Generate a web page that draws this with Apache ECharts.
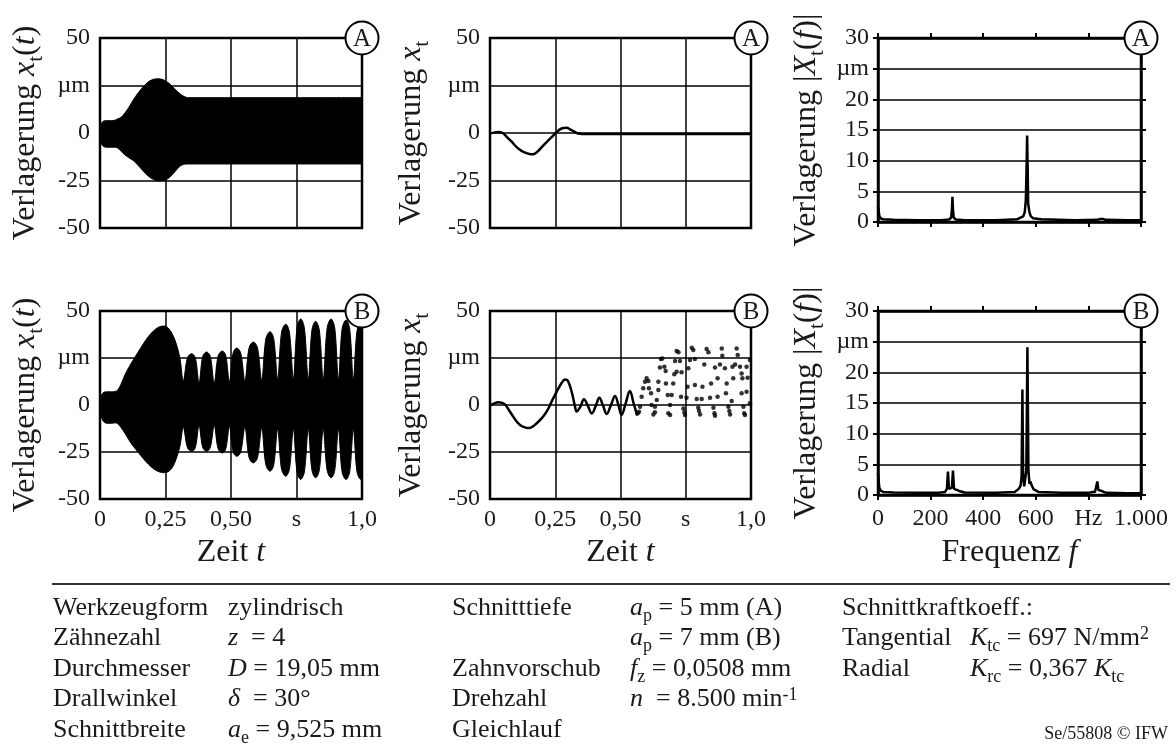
<!DOCTYPE html>
<html><head><meta charset="utf-8">
<script src="https://cdn.jsdelivr.net/npm/echarts/dist/echarts.min.js"></script>
<style>html,body{margin:0;padding:0;background:#fff}#c{width:1176px;height:746px}</style>
</head><body><div id="c"></div>
<script>
const FONT = '"Liberation Serif","Times New Roman",serif';
const INK = '#1a1a1a';

// ---------- tick labels ----------
const timeXTicks = [0, 0.25, 0.5, 0.75, 1];
const timeXLabels = ['0', '0,25', '0,50', 's', '1,0'];
const timeYTicks = [-50, -25, 0, 25, 50];
const timeYLabels = ['-50', '-25', '0', 'µm', '50'];
const freqXTicks = [0, 200, 400, 600, 800, 1000];
const freqXLabels = ['0', '200', '400', '600', 'Hz', '1.000'];
const freqYTicks = [0, 5, 10, 15, 20, 25, 30];
const freqYLabels = ['0', '5', '10', '15', '20', 'µm', '30'];

// ---------- A: envelope of x_t(t) ----------
const tA  = [0, 0.004, 0.012, 0.025, 0.045, 0.058, 0.068, 0.08, 0.095, 0.11, 0.127, 0.145, 0.165, 0.185, 0.205, 0.225, 0.245, 0.265, 0.285, 0.305, 0.32, 0.335, 0.5, 0.75, 1.0];
const upA = [0, 4.5, 6.2, 6.5, 6.5, 6.8, 7.5, 8.2, 10.5, 13.5, 17.4, 21, 24.3, 27, 28.3, 28.5, 27.8, 26, 23.2, 20.7, 19.3, 18.6, 18.6, 18.6, 18.6];
const loA = [0, -5, -7, -7.5, -7.5, -7.5, -8, -9.5, -11.5, -13, -14.5, -17, -20, -22.8, -24.5, -25.2, -25, -23.4, -20.5, -17.5, -16.5, -16.3, -16.3, -16.3, -16.3];

// ---------- A: sampled x_t ----------
const tA2 = [0, 0.015, 0.032, 0.048, 0.064, 0.083, 0.102, 0.121, 0.14, 0.158, 0.172, 0.185, 0.2, 0.217, 0.23, 0.243, 0.256, 0.268, 0.281, 0.294, 0.307, 0.319, 0.332, 0.345, 0.36, 0.4, 0.5, 0.6, 0.7, 0.8, 0.9, 1.0];
const vA2 = [-0.3, 0.2, 0.5, 0, -2, -4.6, -7.4, -9.4, -10.6, -11.2, -10.8, -9.4, -7.2, -4.8, -3, -1.2, 0.5, 1.9, 2.6, 2.7, 1.9, 1, 0, -0.4, -0.5, -0.5, -0.5, -0.5, -0.5, -0.5, -0.5, -0.5];

// ---------- A: spectrum ----------
const fA   = [0, 2, 5, 10, 20, 60, 150, 240, 270, 278, 281, 283, 285, 288, 296, 330, 450, 530, 552, 558, 562, 565, 567, 569, 571, 575, 580, 590, 620, 750, 835, 845, 850, 855, 865, 950, 1000];
const magA = [2.5, 2.0, 1.0, 0.6, 0.45, 0.35, 0.3, 0.3, 0.4, 0.7, 2.0, 4.1, 2.0, 0.7, 0.4, 0.3, 0.3, 0.45, 0.9, 1.6, 3.5, 9.0, 14.1, 9.0, 3.0, 1.8, 1.0, 0.6, 0.45, 0.3, 0.35, 0.5, 0.7, 0.5, 0.35, 0.3, 0.3];

// ---------- B: envelope of x_t(t) ----------
const tB  = [0, 0.004, 0.012, 0.025, 0.045, 0.058, 0.068, 0.08, 0.095, 0.11, 0.127, 0.145, 0.165, 0.185, 0.205, 0.225, 0.245, 0.26, 0.275, 0.29, 0.305, 0.318,
  0.334, 0.350, 0.364, 0.378, 0.392, 0.407, 0.421, 0.436, 0.451, 0.467, 0.480, 0.494, 0.508, 0.522, 0.537, 0.553, 0.569, 0.585, 0.601, 0.617,
  0.633, 0.649, 0.663, 0.678, 0.693, 0.709, 0.723, 0.738, 0.752, 0.766, 0.780, 0.795, 0.809, 0.823, 0.837, 0.852, 0.867, 0.882, 0.896, 0.910,
  0.924, 0.939, 0.953, 0.967, 0.981, 0.996, 1.0];
const upB = [0, 4.5, 6.5, 7, 7, 7.2, 8, 11, 16, 20, 24, 28, 32.5, 36.5, 39.5, 41.5, 42, 41, 38, 33, 25, 13,
  25.2, 27.3, 25, 12, 25.8, 28.2, 25.8, 12, 26.2, 28.7, 26.3, 12.5, 27.6, 30.3, 27.7, 13, 30.4, 33.5, 30.5, 13.5,
  35.2, 39, 35.3, 14, 38.7, 43, 38.7, 14, 41, 45.8, 41, 14, 40, 44.5, 40, 14, 41, 45.8, 41, 14,
  40.5, 45.2, 40.5, 14, 39.5, 44, 43.5];
const loB = [0, -5.5, -8.5, -9.7, -9.7, -9.5, -10, -12, -15, -18.5, -22, -25, -28.5, -31.5, -34, -35.5, -36, -35.5, -33.5, -29, -22, -12,
  -22.7, -24.6, -22.6, -11, -22.6, -24.6, -22.6, -11, -23.3, -25.5, -23.4, -11.5, -25, -27.3, -25, -12, -28, -30.8, -28.1, -12.5,
  -31.8, -35.2, -31.9, -13, -34.2, -37.9, -34.2, -13, -35.6, -39.6, -35.6, -13, -34.8, -38.7, -34.8, -13, -34.8, -38.7, -34.8, -13,
  -35.6, -39.6, -35.6, -13, -35.6, -39.6, -39];

// ---------- B: sampled x_t (continuous part) ----------
const tB2 = [0, 0.016, 0.032, 0.045, 0.057, 0.073, 0.089, 0.102, 0.115, 0.131, 0.147, 0.163, 0.179, 0.195, 0.211, 0.224, 0.236, 0.249, 0.262, 0.275, 0.287, 0.298, 0.313, 0.326, 0.332, 0.346, 0.36, 0.375, 0.39, 0.405, 0.419, 0.433, 0.447, 0.463, 0.479, 0.492, 0.504, 0.52, 0.536, 0.55, 0.564];
const vB2 = [-0.3, 0.8, 1.4, 1.2, 0.4, -2.8, -6.2, -8.8, -10.6, -11.8, -12.3, -11.5, -9.7, -7.5, -4.8, -1.8, 1.8, 5.3, 8.8, 11.8, 13.6, 13, 7, -1, -3.5, -1, 3, -0.5, -4.5, -0.5, 3.9, -0.3, -4.8, -0.2, 4.8, 0, -5.3, 1, 7.5, 1, -5.6];

// ---------- B: sampled x_t (scattered samples) ----------
const tDots = [0.566, 0.571, 0.575, 0.581, 0.587, 0.594, 0.600, 0.607, 0.609, 0.617, 0.619, 0.626, 0.632, 0.632, 0.639, 0.645, 0.645, 0.651, 0.655, 0.660,
  0.668, 0.673, 0.674, 0.681, 0.690, 0.683, 0.690, 0.696, 0.702, 0.706, 0.709, 0.715, 0.715, 0.722, 0.728, 0.734, 0.732, 0.741, 0.745, 0.747,
  0.753, 0.757, 0.760, 0.766, 0.773, 0.779, 0.785, 0.785, 0.792, 0.798, 0.801, 0.805, 0.811, 0.814, 0.821, 0.830, 0.837, 0.843, 0.847, 0.856,
  0.860, 0.862, 0.862, 0.872, 0.872, 0.881, 0.888, 0.890, 0.900, 0.904, 0.907, 0.913, 0.917, 0.920, 0.926, 0.929, 0.932, 0.939, 0.945, 0.949,
  0.958, 0.964, 0.964, 0.967, 0.971, 0.974, 0.977, 0.983, 0.983, 0.987, 0.996, 0.996];
const vDots = [-4.4, -3.6, -0.9, 4.4, 8.9, 12.4, 14.2, 12.8, 8.9, 6.2, 0, -5.0, -3.9, -0.9, 2.7, 8.0, 12.4, 19.9, 24.5, 24.8,
  20.4, 18.1, 11.5, 5.3, 0, -4.4, -5.3, 5.3, 11.5, 16.3, 23.4, 28.7, 17.7, 28.0, 23.4, 17.4, 4.4, -1.8, -3.9, -5.3,
  3.9, 9.7, 19.5, 23.9, 30.5, 29.3, 24.5, 10.6, 3.2, -1.4, -3.2, -5.0, 3.2, 9.7, 21.6, 29.8, 28.0, 3.9, 11.5, -1.4,
  -4.4, -5.7, 19.9, 14.2, 4.4, 21.6, 30.1, 26.2, 19.5, 6.2, 11.5, -0.9, -3.2, -5.0, 2.1, 20.4, 14.2, 21.6, 30.1, 26.6,
  20.4, 16.8, 6.2, 14.2, -0.9, -4.4, -5.3, 7.1, 20.4, 14.5, 0.9, 23.9];

// ---------- B: spectrum ----------
const fB   = [0, 2, 5, 10, 20, 60, 150, 230, 255, 262, 266, 270, 275, 281, 285, 289, 295, 302, 306, 312, 330, 450, 520, 535, 542, 546, 549, 552, 556, 560, 564, 568, 572, 576, 580, 585, 592, 610, 700, 800, 815, 825, 830, 834, 838, 843, 848, 853, 858, 870, 950, 1000];
const magB = [3.5, 2.5, 1.2, 0.7, 0.5, 0.4, 0.35, 0.35, 0.5, 1.0, 3.8, 1.0, 0.8, 1.2, 4.0, 1.0, 0.7, 0.8, 0.9, 0.6, 0.4, 0.35, 0.5, 1.0, 1.5, 3.0, 17.2, 3.0, 1.4, 1.5, 4.0, 24.1, 4.0, 1.8, 2.2, 1.5, 0.9, 0.5, 0.35, 0.35, 0.5, 0.5, 0.8, 2.2, 0.8, 0.6, 0.7, 0.9, 0.5, 0.35, 0.3, 0.3];

// ---------- table texts ----------
const tableCol1 = ['Werkzeugform', 'Zähnezahl', 'Durchmesser', 'Drallwinkel', 'Schnittbreite'];
const tableCol2 = ['zylindrisch', '{i|z}  = 4', '{i|D} = 19,05 mm', '{i|δ}  = 30°', '{i|a}{s|e} = 9,525 mm'];
const tableCol3 = ['Schnitttiefe', '', 'Zahnvorschub', 'Drehzahl', 'Gleichlauf'];
const tableCol4 = ['{i|a}{s|p} = 5 mm (A)', '{i|a}{s|p} = 7 mm (B)', '{i|f}{s|z} = 0,0508 mm', '{i|n}  = 8.500 min{u|-1}', ''];
const tableCol5 = ['Schnittkraftkoeff.:', 'Tangential', 'Radial', '', ''];
const tableCol6 = ['', '{i|K}{s|tc} = 697 N/mm{u|2}', '{i|K}{s|rc} = 0,367 {i|K}{s|tc}', '', ''];
const footer = 'Se/55808 © IFW';

// ---------- layout ----------
const G = [
  {left: 100, top: 38, width: 262, height: 190},
  {left: 490, top: 38, width: 261, height: 190},
  {left: 878, top: 38, width: 263, height: 184},
  {left: 100, top: 311, width: 262, height: 188},
  {left: 490, top: 311, width: 261, height: 188},
  {left: 878, top: 311, width: 263, height: 184}
];
const badges = ['A', 'A', 'A', 'B', 'B', 'B'];
const tableX = [53, 228, 452, 630, 842, 970];
const rowY = [610, 640, 671, 701, 732];

const zip = (a, b) => a.map((v, i) => [v, b[i]]);
const lab = (ticks, labels) => v => { const i = ticks.findIndex(t => Math.abs(t - v) < 1e-6); return i < 0 ? '' : labels[i]; };

const nameRich = {
  n: {fontFamily: FONT, fontSize: 32, color: INK, verticalAlign: 'top', lineHeight: 34},
  i: {fontFamily: FONT, fontSize: 32, color: INK, fontStyle: 'italic', verticalAlign: 'top', lineHeight: 34},
  s: {fontFamily: FONT, fontSize: 21, color: INK, verticalAlign: 'top', lineHeight: 21, padding: [16, 0, 0, 0]}
};
const nameStyle = {fontFamily: FONT, fontSize: 32, color: INK, rich: nameRich};
const labelStyle = {fontFamily: FONT, fontSize: 24, color: INK};

function timeX(grid, showLabels, name) {
  return {
    gridIndex: grid, type: 'value', min: 0, max: 1, interval: 0.25,
    axisLine: {show: false, onZero: false}, axisTick: {show: false},
    splitLine: {show: true, lineStyle: {color: '#000', width: 1.5}},
    axisLabel: Object.assign({show: showLabels, margin: 9, formatter: lab(timeXTicks, timeXLabels)}, labelStyle),
    name: name || '', nameLocation: 'middle', nameGap: 38, nameTextStyle: nameStyle
  };
}
function timeY(grid, name, gap) {
  return {
    gridIndex: grid, type: 'value', min: -50, max: 50, interval: 25,
    axisLine: {show: false, onZero: false}, axisTick: {show: false},
    splitLine: {show: true, lineStyle: {color: '#000', width: 1.5}},
    axisLabel: Object.assign({margin: 10, formatter: lab(timeYTicks, timeYLabels)}, labelStyle),
    name: name, nameLocation: 'middle', nameRotate: 90, nameGap: gap, nameTextStyle: nameStyle
  };
}
const tickStyle = {show: true, inside: false, length: 5, lineStyle: {color: '#000', width: 2}};
const lineStyleAx = {show: true, onZero: false, lineStyle: {color: '#000', width: 2.5}};
function freqX(grid, pos, showLabels, name) {
  return {
    gridIndex: grid, type: 'value', position: pos, min: 0, max: 1000, interval: 200,
    axisLine: lineStyleAx, axisTick: tickStyle, splitLine: {show: false},
    axisLabel: Object.assign({show: showLabels, margin: 12, formatter: lab(freqXTicks, freqXLabels)}, labelStyle),
    name: name || '', nameLocation: 'middle', nameGap: 42, nameTextStyle: nameStyle
  };
}
function freqY(grid, pos, name, gap) {
  const left = pos === 'left';
  return {
    gridIndex: grid, type: 'value', position: pos, min: 0, max: 30, interval: 5,
    axisLine: lineStyleAx, axisTick: tickStyle,
    splitLine: {show: left, lineStyle: {color: '#000', width: 1.5}},
    axisLabel: Object.assign({show: left, margin: 9, formatter: lab(freqYTicks, freqYLabels)}, labelStyle),
    name: left ? name : '', nameLocation: 'middle', nameRotate: 90, nameGap: gap, nameTextStyle: nameStyle
  };
}

const nameXt = '{n|Verlagerung }{i|x}{s|t}{n|(}{i|t}{n|)}';
const nameXs = '{n|Verlagerung }{i|x}{s|t}';
const nameXf = '{n|Verlagerung |}{i|X}{s|t}{n|(}{i|f}{n|)|}';

const xAxis = [
  timeX(0, false), timeX(1, false),
  freqX(2, 'bottom', false), freqX(2, 'top', false),
  timeX(3, true, '{n|Zeit }{i|t}'), timeX(4, true, '{n|Zeit }{i|t}'),
  freqX(5, 'bottom', true, '{n|Frequenz }{i|f}'), freqX(5, 'top', false)
];
const yAxis = [
  timeY(0, nameXt, 56), timeY(1, nameXs, 60),
  freqY(2, 'left', nameXf, 53), freqY(2, 'right'),
  timeY(3, nameXt, 56), timeY(4, nameXs, 60),
  freqY(5, 'left', nameXf, 53), freqY(5, 'right')
];

const black = '#000';
function env(data, xi, yi, smooth) {
  return {type: 'line', xAxisIndex: xi, yAxisIndex: yi, data: data, showSymbol: false, smooth: smooth,
    lineStyle: {color: black, width: 1}, areaStyle: {color: black, opacity: 1}, z: 3, silent: true};
}
function curve(data, xi, yi, smooth, w) {
  return {type: 'line', xAxisIndex: xi, yAxisIndex: yi, data: data, showSymbol: false, smooth: smooth,
    lineStyle: {color: black, width: w}, z: 3, silent: true};
}
const series = [
  env(zip(tA, upA), 0, 0, 0.3), env(zip(tA, loA), 0, 0, 0.3),
  curve(zip(tA2, vA2), 1, 1, 0.4, 2.5),
  curve(zip(fA, magA), 2, 2, false, 2.5),
  env(zip(tB, upB), 4, 4, 0.35), env(zip(tB, loB), 4, 4, 0.35),
  curve(zip(tB2, vB2), 5, 5, 0.4, 2.5),
  {type: 'scatter', xAxisIndex: 5, yAxisIndex: 5, data: zip(tDots, vDots), symbolSize: 4.5, itemStyle: {color: black}, z: 3, silent: true},
  curve(zip(fB, magB), 6, 6, false, 2.5)
];

// graphics: badges, rule, table
const tRich = {
  n: {fontFamily: FONT, fontSize: 26, fill: INK, verticalAlign: 'top', lineHeight: 29},
  i: {fontFamily: FONT, fontSize: 26, fill: INK, fontStyle: 'italic', verticalAlign: 'top', lineHeight: 29},
  s: {fontFamily: FONT, fontSize: 18, fill: INK, verticalAlign: 'top', lineHeight: 18, padding: [12, 0, 0, 0]},
  u: {fontFamily: FONT, fontSize: 18, fill: INK, verticalAlign: 'top', lineHeight: 18, padding: [0, 0, 0, 0]}
};
function wrapPlain(s) {
  if (!s) return '';
  let out = '', re = /\{(\w)\|([^}]*)\}/g, last = 0, m;
  while ((m = re.exec(s))) {
    if (m.index > last) out += '{n|' + s.slice(last, m.index) + '}';
    out += m[0]; last = re.lastIndex;
  }
  if (last < s.length) out += '{n|' + s.slice(last) + '}';
  return out;
}
const graphic = [];
G.forEach((g, k) => {
  graphic.push({type: 'circle', z: 100, shape: {cx: g.left + g.width, cy: g.top, r: 16.5},
    style: {fill: '#fff', stroke: '#000', lineWidth: 2}});
  graphic.push({type: 'text', z: 101, x: g.left + g.width, y: g.top + 1,
    style: {text: badges[k], fontFamily: FONT, fontSize: 25, fill: INK, align: 'center', verticalAlign: 'middle', textAlign: 'center', textVerticalAlign: 'middle'}});
});
graphic.push({type: 'line', z: 100, shape: {x1: 52, y1: 584, x2: 1170, y2: 584}, style: {stroke: '#333', lineWidth: 2}});
[tableCol1, tableCol2, tableCol3, tableCol4, tableCol5, tableCol6].forEach((col, c) => {
  col.forEach((txt, r) => {
    if (!txt) return;
    graphic.push({type: 'text', z: 100, x: tableX[c], y: rowY[r],
      style: {text: wrapPlain(txt), rich: tRich, fontFamily: FONT, fontSize: 26, fill: INK,
        align: 'left', verticalAlign: 'middle', textAlign: 'left', textVerticalAlign: 'middle'}});
  });
});
graphic.push({type: 'text', z: 100, x: 1168, y: rowY[4] + 2,
  style: {text: footer, fontFamily: FONT, fontSize: 18, fill: INK, align: 'right', verticalAlign: 'middle', textAlign: 'right', textVerticalAlign: 'middle'}});

const chart = echarts.init(document.getElementById('c'));
chart.setOption({
  animation: false,
  backgroundColor: '#fff',
  grid: G.map(g => Object.assign({}, g, {show: true, borderColor: '#000', borderWidth: 2.5, backgroundColor: 'rgba(0,0,0,0)'})),
  xAxis: xAxis,
  yAxis: yAxis,
  series: series,
  graphic: graphic
});
</script>
</body></html>
